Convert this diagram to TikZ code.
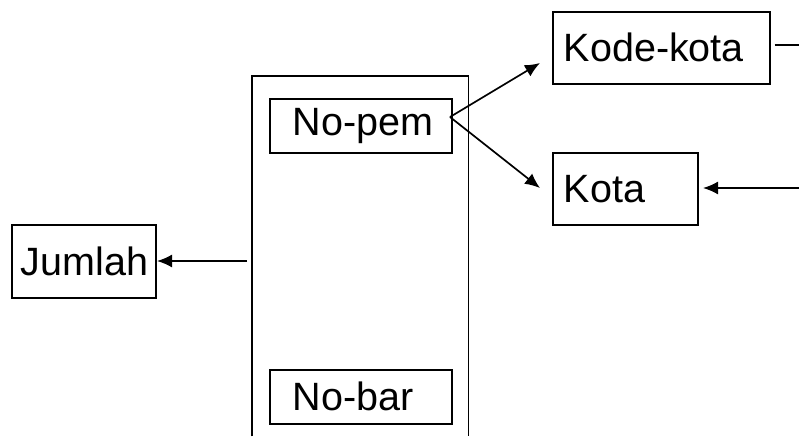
\documentclass[tikz,border=0pt]{standalone}
\usepackage{fontspec}
\setmainfont{Liberation Sans}
\usetikzlibrary{arrows.meta}
\begin{document}
\begin{tikzpicture}[x=1pt,y=-1pt,
  lw/.style={line width=1.7pt},
  box/.style={draw,lw,anchor=north west,inner sep=0pt,font=\fontsize{39.5}{42}\selectfont,align=left},
  arr/.style={lw,-{Latex[length=15pt,width=13pt]}}]
\useasboundingbox (0,0) rectangle (799,436);
% container
\node (rec) [anchor=north west,minimum width=216pt,minimum height=360pt,inner sep=0pt] at (252,76) {};
\draw[lw] (rec.south west) -- (rec.north west) -- (rec.north east) -- (rec.south east);
\node (nopem) [box,minimum width=182pt,minimum height=54pt,text width=182pt] at (269,98) {\hspace*{23pt}No-pem};
\node (nobar) [box,minimum width=182pt,minimum height=54pt,text width=182pt] at (269,369) {\hspace*{23pt}No-bar};
\node (kk) [box,minimum width=217pt,minimum height=72pt,text width=217pt] at (552,11) {\hspace*{11pt}Kode-kota};
\node (kota) [box,minimum width=145pt,minimum height=72pt,text width=145pt] at (552,152) {\hspace*{11pt}Kota};
\node (jum) [box,minimum width=144pt,minimum height=73pt,text width=144pt] at (11,224) {\hspace*{9pt}Jumlah};
% coordinates
\coordinate (v) at (450,117);
\coordinate (kkin) at (540,63);
\coordinate (kotain) at (540,188);
\coordinate (kkout) at (799,45);
\coordinate (kotaext) at (799,188);
\coordinate (kotatip) at (703,188);
\coordinate (recl) at (247,261);
\coordinate (jumtip) at (157,261);
% connectors
\draw[arr] (v) -- (kkin);
\draw[arr] (v) -- (kotain);
\draw[lw] (kk.east |- kkout) ++(4,0) -- (kkout);
\draw[arr] (kotaext) -- (kotatip);
\draw[arr] (recl) -- (jumtip);
\end{tikzpicture}
\end{document}
